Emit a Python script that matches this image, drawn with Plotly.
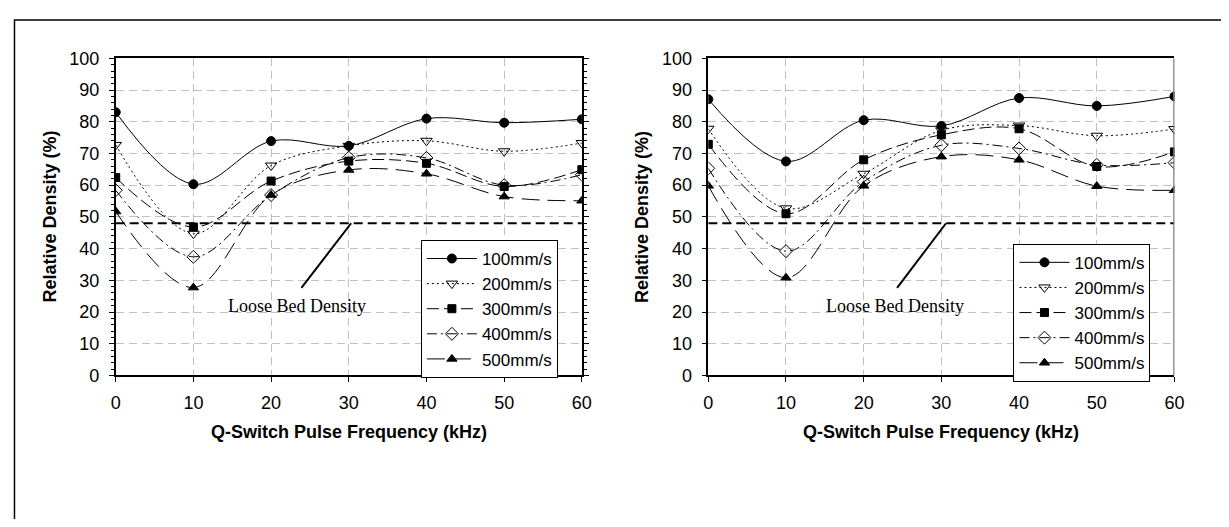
import plotly.graph_objects as go

# browser window and default page margin
WIN_W, WIN_H = 1229, 527
OFF = 8
W, H = WIN_W - 2 * OFF, WIN_H - 2 * OFF

freq = [0, 10, 20, 30, 40, 50, 60]
speeds = ["100mm/s", "200mm/s", "300mm/s", "400mm/s", "500mm/s"]

left_100 = [83.0, 60.3, 73.9, 72.4, 81.0, 79.7, 80.8]
left_200 = [72.7, 44.7, 66.2, 72.4, 74.0, 70.7, 73.3]
left_300 = [62.4, 46.8, 61.3, 67.6, 66.9, 59.6, 64.9]
left_400 = [58.4, 37.4, 56.9, 68.7, 68.6, 60.0, 63.3]
left_500 = [51.7, 27.7, 56.9, 64.8, 63.6, 56.4, 55.1]

right_100 = [87.1, 67.5, 80.5, 78.7, 87.5, 85.0, 88.0]
right_200 = [77.8, 52.7, 63.6, 77.3, 78.8, 75.6, 77.7]
right_300 = [72.9, 51.0, 68.0, 75.9, 77.8, 65.9, 70.5]
right_400 = [65.3, 39.2, 61.1, 72.6, 71.6, 66.4, 67.1]
right_500 = [59.8, 30.8, 59.8, 69.0, 68.0, 59.7, 58.4]

loose_bed = 48.0
annot_text = "Loose Bed Density"

left_series = [left_100, left_200, left_300, left_400, left_500]
right_series = [right_100, right_200, right_300, right_400, right_500]

styles = [
    dict(dash="solid", symbol="circle", size=9),
    dict(dash="2px,3px", symbol="triangle-down-open", size=10),
    dict(dash="12px,5px", symbol="square", size=8),
    dict(dash="10px,4px,2px,4px", symbol="diamond-open", size=10),
    dict(dash="18px,8px", symbol="triangle-up", size=9),
]


def px_x(p):
    return (p - OFF) / W


def px_y(p):
    return 1 - (p - OFF) / H


fig = go.Figure()

for panel, series, xa, ya, leg in [
    (0, left_series, "x", "y", "legend"),
    (1, right_series, "x2", "y2", "legend2"),
]:
    for name, vals, st in zip(speeds, series, styles):
        fig.add_trace(go.Scatter(
            x=freq, y=vals, name=name, xaxis=xa, yaxis=ya, legend=leg,
            mode="lines+markers",
            line=dict(color="black", width=1, dash=st["dash"], shape="spline", smoothing=1.0),
            marker=dict(symbol=st["symbol"], size=st["size"], color="black",
                        line=dict(color="black", width=1)),
        ))
    fig.add_trace(go.Scatter(
        x=[freq[0], freq[-1]], y=[loose_bed, loose_bed], xaxis=xa, yaxis=ya,
        mode="lines", showlegend=False, hoverinfo="skip",
        line=dict(color="black", width=2, dash="9px,5px"),
    ))

font_tick = dict(family="Arial, Liberation Sans, sans-serif", size=18, color="black")

axis_common = dict(
    range=[0, 60], dtick=10, tick0=0, showgrid=True, gridcolor="#c0c0c0",
    griddash="8px,5px", gridwidth=1, zeroline=False, showline=True,
    linecolor="black", linewidth=1.5, ticks="outside", ticklen=5,
    tickcolor="black", tickfont=font_tick, mirror=True, ticklabelstandoff=5,
)
yaxis_common = dict(
    range=[0, 100], dtick=10, tick0=0, showgrid=True, gridcolor="#c0c0c0",
    griddash="8px,5px", gridwidth=1, zeroline=False, showline=True,
    linecolor="black", linewidth=1.5, ticks="outside", ticklen=5,
    tickcolor="black", tickfont=font_tick, ticklabelstandoff=6,
)

legend_font = dict(family="Arial, Liberation Sans, sans-serif", size=17, color="black")

ytop, ybot = px_y(50), px_y(380)
fig.update_layout(
    width=W, height=H, autosize=False,
    margin=dict(l=0, r=0, t=0, b=0),
    paper_bgcolor="white", plot_bgcolor="white",
    xaxis=dict(domain=[px_x(112), px_x(584)], anchor="y", **axis_common),
    yaxis=dict(domain=[ybot, ytop], anchor="x", mirror="ticks",
               minor=dict(dtick=2, ticks="outside", ticklen=3, tickcolor="black", showgrid=False),
               **yaxis_common),
    xaxis2=dict(domain=[px_x(712), px_x(1184)], anchor="y2", **axis_common),
    yaxis2=dict(domain=[ybot, ytop], anchor="x2", mirror=False, **yaxis_common),
    legend=dict(x=px_x(421), y=px_y(239), xanchor="left", yanchor="top",
                bgcolor="white", bordercolor="black", borderwidth=1,
                font=legend_font, tracegroupgap=0, itemwidth=50),
    legend2=dict(x=px_x(1021), y=px_y(243), xanchor="left", yanchor="top",
                 bgcolor="white", bordercolor="black", borderwidth=1,
                 font=legend_font, tracegroupgap=0, itemwidth=50),
    showlegend=True,
)

title_font = dict(family="Arial, Liberation Sans, sans-serif", size=18, color="black")
annotations = []
for cx, ycx in [(348, 45), (948, 645)]:
    annotations.append(dict(x=px_x(cx), y=px_y(439), xref="paper", yref="paper",
                            text="<b>Q-Switch Pulse Frequency (kHz)</b>", showarrow=False,
                            font=title_font, xanchor="center", yanchor="middle"))
    annotations.append(dict(x=px_x(ycx), y=(ytop + ybot) / 2, xref="paper", yref="paper",
                            text="<b>Relative Density (%)</b>", showarrow=False, textangle=-90,
                            font=title_font, xanchor="center", yanchor="middle"))

serif = dict(family="Liberation Serif, Times New Roman, serif", size=18, color="black")
annotations.append(dict(x=23.3, y=21.8, xref="x", yref="y", text=annot_text,
                        showarrow=False, font=serif))
annotations.append(dict(x=24.0, y=21.8, xref="x2", yref="y2", text=annot_text,
                        showarrow=False, font=serif))
fig.update_layout(annotations=annotations)

shapes = [
    dict(type="line", xref="x", yref="y", x0=23.9, y0=27.6, x1=30.3, y1=loose_bed,
         line=dict(color="black", width=2)),
    dict(type="line", xref="x2", yref="y2", x0=24.3, y0=27.6, x1=30.6, y1=loose_bed,
         line=dict(color="black", width=2)),
    dict(type="line", xref="x2", yref="y2", x0=60, y0=0, x1=60, y1=100,
         line=dict(color="#808080", width=2.5)),
    dict(type="rect", xref="paper", yref="paper", x0=px_x(9.5), y0=-0.2, x1=1.2, y1=px_y(10),
         line=dict(color="black", width=1.5), fillcolor="rgba(0,0,0,0)", layer="above"),
]
fig.update_layout(shapes=shapes)

fig.write_html("out.html")
